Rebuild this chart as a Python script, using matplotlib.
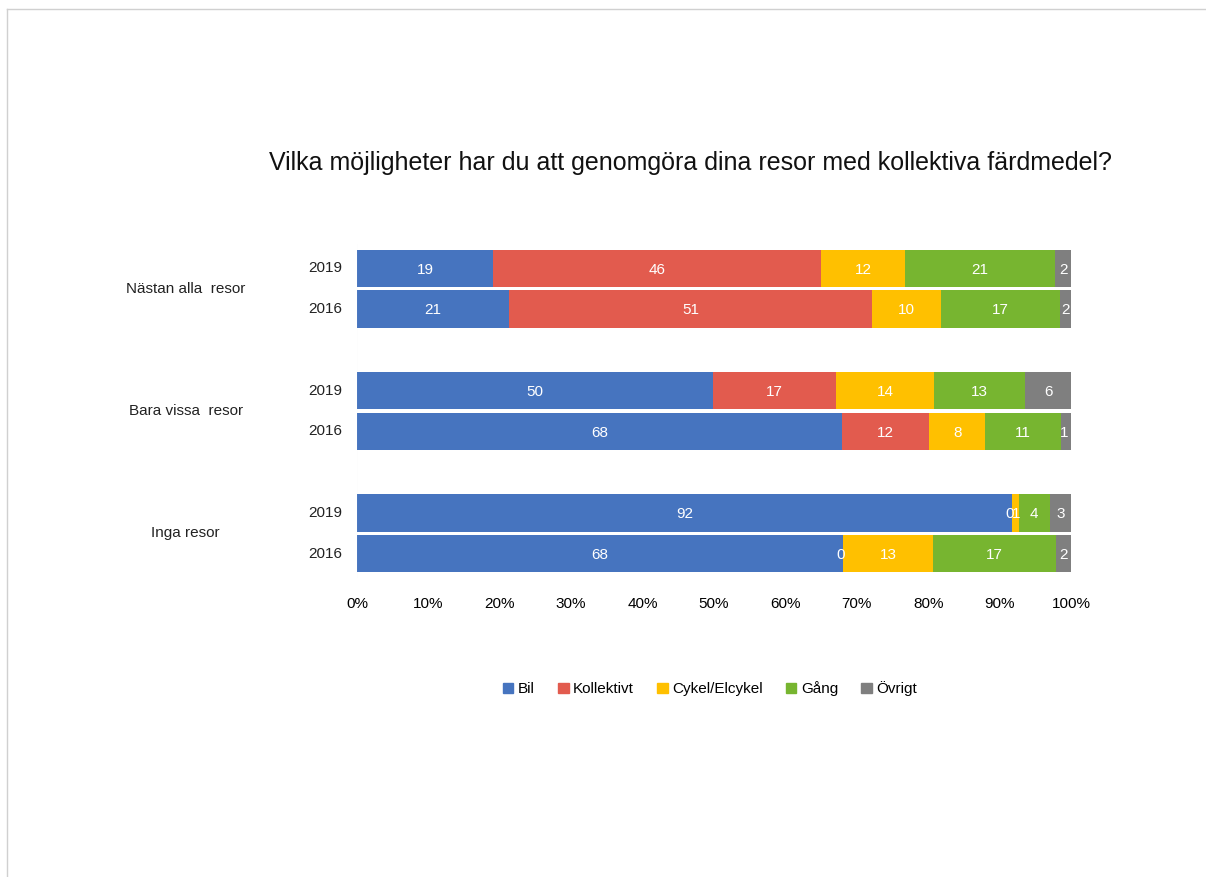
import matplotlib
matplotlib.use("Agg")
import matplotlib.pyplot as plt
from matplotlib.patches import Rectangle
from matplotlib.lines import Line2D

plt.rcParams['font.family'] = ['Liberation Sans', 'DejaVu Sans']

title = "Vilka möjligheter har du att genomgöra dina resor med kollektiva färdmedel?"
groups = ["Nästan alla  resor", "Bara vissa  resor", "Inga resor"]
years = ["2019", "2016"]
series = ["Bil", "Kollektivt", "Cykel/Elcykel", "Gång", "Övrigt"]
colors = ["#4674BF", "#E25B4E", "#FFC000", "#77B530", "#7F7F7F"]

# rows in order: (group, year)
bil         = [19.0, 21.3, 49.9, 67.8, 91.6, 68.1]
kollektivt  = [45.9, 51.0, 17.2, 12.3, 0.0, 0.0]
cykel       = [11.8, 9.7, 13.7, 7.8, 0.9, 12.6]
gang        = [21.0, 16.6, 12.8, 10.6, 4.3, 17.2]
ovrigt      = [2.2, 1.6, 6.4, 1.4, 3.0, 2.1]
values = [bil, kollektivt, cykel, gang, ovrigt]

W, H = 1206, 877
fig = plt.figure(figsize=(W / 100, H / 100), dpi=100)

# frame border (top and left visible)
fig.add_artist(Line2D([7 / W, 7 / W], [0, 1 - 9 / H], color="#d0d0d0", lw=1))
fig.add_artist(Line2D([7 / W, 1], [1 - 9 / H, 1 - 9 / H], color="#d0d0d0", lw=1))

ax = fig.add_axes([357 / W, 1 - 578 / H, 714 / W, (578 - 244) / H])

pos = [0, 1, 3, 4, 6, 7]
nrows = len(pos)
for i in range(nrows):
    total = sum(v[i] for v in values)
    left = 0.0
    for s, v in enumerate(values):
        frac = v[i] / total * 100
        ax.barh(pos[i], frac, left=left, height=0.92, color=colors[s], edgecolor="none")
        lbl = f"{round(v[i]):d}"
        x = left + frac / 2
        ha = "center"
        # zero-width Kollektivt labels in "Inga resor"
        if v[i] == 0:
            ha = "right"
            x = left + 0.2
        elif frac < 1.5:
            ha = "left"
            x = left - 0.1
        ax.text(x, pos[i] + 0.03, lbl, ha=ha, va="center", color="white", fontsize=11)
        left += frac

ax.set_xlim(0, 100)
ax.set_ylim(7.6, -0.6)
ax.set_xticks(range(0, 101, 10))
ax.set_xticklabels([f"{t}%" for t in range(0, 101, 10)], fontsize=11)
ax.tick_params(axis="x", length=0, pad=14)
ax.set_yticks([])
for sp in ax.spines.values():
    sp.set_visible(False)
ax.axvline(-0.15, color="#d9d9d9", lw=1.5)

# year labels and group labels
for i, p in enumerate(pos):
    ax.text(-2.0, p, years[i % 2], ha="right", va="center", fontsize=11, color="#222222")
for g, name in enumerate(groups):
    ax.text(-24.0, pos[2 * g] + 0.5, name, ha="center", va="center", fontsize=11, color="#222222")

fig.text(690 / W, 1 - 163 / H, title, ha="center", va="center", fontsize=18, color="#111111")

handles = [Rectangle((0, 0), 1, 1, color=c) for c in colors]
fig.legend(handles, series, loc="center", bbox_to_anchor=(710 / W, 1 - 689 / H), ncol=5,
           frameon=False, fontsize=11, handlelength=0.7, handleheight=0.7,
           handletextpad=0.3, columnspacing=1.5)

fig.savefig("out.png", dpi=100)
